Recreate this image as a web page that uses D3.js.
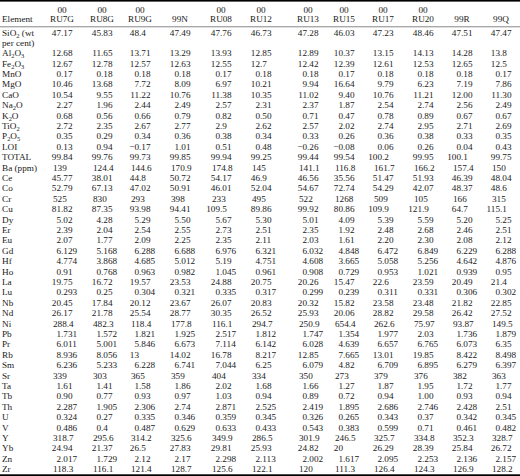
<!DOCTYPE html>
<html><head><meta charset="utf-8">
<script src="https://cdn.jsdelivr.net/npm/d3@7"></script>
<style>body{margin:0;background:#fff}</style></head>
<body><script>
const prefix=["00","00","00","","00","00","00","00","00","00","",""];
const samples=["RU7G","RU8G","RU9G","99N","RU08","RU12","RU13","RU15","RU17","RU20","99R","99Q"];
const colCenters=[62,102,140,180,221,261,308,344,383,423,462,501];
const elements=["Al|2|O|3","Fe|2|O|3","MnO","MgO","CaO","Na|2|O","K|2|O","TiO|2","P|2|O|5","LOI","TOTAL","Ba (ppm)","Ce","Co","Cr","Cu","Dy","Er","Eu","Gd","Hf","Ho","La","Lu","Nb","Nd","Ni","Pb","Pr","Rb","Sm","Sr","Ta","Tb","Th","U","V","Y","Yb","Zn","Zr"];
const leftRows=["Ba (ppm)","Cr","Sr","Ni","Y","Zr"];
const sio2=["47.17","45.83","48.4","47.49","47.76","46.73","47.28","46.03","47.23","48.46","47.51","47.47"];
const values=[
["12.68","11.65","13.71","13.29","13.93","12.85","12.89","10.37","13.15","14.13","14.28","13.8"],
["12.67","12.78","12.57","12.63","12.55","12.7","12.42","12.39","12.61","12.53","12.65","12.5"],
["0.17","0.18","0.18","0.18","0.17","0.18","0.18","0.17","0.18","0.18","0.18","0.17"],
["10.46","13.68","7.72","8.09","6.97","10.21","9.94","16.64","9.79","6.23","7.19","7.86"],
["10.54","9.55","11.22","10.76","11.38","10.35","11.02","9.40","10.76","11.21","12.00","11.30"],
["2.27","1.96","2.44","2.49","2.57","2.31","2.37","1.87","2.54","2.74","2.56","2.49"],
["0.68","0.56","0.66","0.79","0.82","0.50","0.71","0.47","0.78","0.89","0.67","0.67"],
["2.72","2.35","2.67","2.77","2.9","2.62","2.57","2.02","2.74","2.95","2.71","2.69"],
["0.35","0.29","0.34","0.36","0.38","0.34","0.33","0.26","0.36","0.38","0.33","0.35"],
["0.13","0.94","\u22120.17","1.01","0.51","0.48","\u22120.26","\u22120.08","0.06","0.26","0.04","0.43"],
["99.84","99.76","99.73","99.85","99.94","99.25","99.44","99.54","100.2","99.95","100.1","99.75"],
["139","124.4","144.6","170.9","174.8","145","141.1","116.8","161.7","166.2","157.4","150"],
["45.77","38.01","44.8","50.72","54.17","46.9","46.56","35.56","51.47","51.93","46.39","48.04"],
["52.79","67.13","47.02","50.91","46.01","52.04","54.67","72.74","54.29","42.07","48.37","48.6"],
["525","830","293","398","233","495","522","1268","509","105","166","315"],
["81.82","87.35","93.98","94.41","109.5","89.86","99.92","80.86","109.9","121.9","64.7","115.1"],
["5.02","4.28","5.29","5.50","5.67","5.30","5.01","4.09","5.39","5.59","5.20","5.25"],
["2.39","2.04","2.54","2.55","2.73","2.51","2.35","1.92","2.48","2.68","2.46","2.51"],
["2.07","1.77","2.09","2.25","2.35","2.11","2.03","1.61","2.20","2.30","2.08","2.12"],
["6.129","5.168","6.288","6.688","6.976","6.321","6.032","4.848","6.472","6.849","6.229","6.288"],
["4.774","3.868","4.685","5.012","5.19","4.751","4.608","3.665","5.058","5.256","4.642","4.876"],
["0.91","0.768","0.963","0.982","1.045","0.961","0.908","0.729","0.953","1.021","0.939","0.95"],
["19.75","16.72","19.57","23.53","24.88","20.75","20.26","15.47","22.6","23.59","20.49","21.4"],
["0.293","0.25","0.304","0.321","0.335","0.317","0.299","0.239","0.311","0.331","0.306","0.302"],
["20.45","17.84","20.12","23.67","26.07","20.83","20.32","15.82","23.58","23.48","21.82","22.85"],
["26.17","21.78","25.54","28.77","30.35","26.52","25.93","20.06","28.82","29.58","26.42","27.52"],
["288.4","482.3","118.4","177.8","116.1","294.7","250.9","654.4","262.6","75.97","93.87","149.5"],
["1.731","1.572","1.821","1.925","2.517","1.812","1.747","1.354","1.977","2.03","1.736","1.879"],
["6.011","5.001","5.846","6.673","7.114","6.142","6.028","4.639","6.657","6.765","6.073","6.35"],
["8.936","8.056","13","14.02","16.78","8.217","12.85","7.665","13.01","19.85","8.422","8.498"],
["6.236","5.233","6.228","6.741","7.044","6.25","6.079","4.82","6.709","6.895","6.279","6.397"],
["339","303","365","359","404","334","350","273","379","376","382","363"],
["1.61","1.41","1.58","1.86","2.02","1.68","1.66","1.27","1.87","1.95","1.72","1.77"],
["0.90","0.77","0.93","0.97","1.03","0.94","0.89","0.72","0.94","1.00","0.93","0.94"],
["2.287","1.905","2.306","2.74","2.871","2.525","2.419","1.895","2.686","2.746","2.428","2.51"],
["0.324","0.27","0.335","0.346","0.359","0.345","0.326","0.265","0.343","0.37","0.342","0.345"],
["0.486","0.4","0.487","0.629","0.633","0.433","0.543","0.383","0.599","0.71","0.461","0.482"],
["318.7","295.6","314.2","325.6","349.9","286.5","301.9","246.5","325.7","334.8","352.3","328.7"],
["24.94","21.37","26.5","27.83","29.81","25.93","24.82","20","26.29","28.39","25.84","26.72"],
["2.017","1.729","2.12","2.17","2.298","2.113","2.002","1.617","2.095","2.253","2.136","2.157"],
["118.3","116.1","121.4","128.7","125.6","122.1","120","111.3","126.4","124.3","126.9","128.2"]
];
const W=520,H=476,FONT="Liberation Serif",FS=9.2,col="#1a1a1a";
const svg=d3.select("body").append("svg").attr("width",W).attr("height",H);
const y=d3.scaleLinear().domain([0,elements.length-1]).range([53,469]);
const xs=d3.scaleOrdinal().domain(samples).range(colCenters);
svg.append("rect").attr("x",0).attr("y",0).attr("width",W).attr("height",1.6).attr("fill","#000");
svg.append("rect").attr("x",0).attr("y",26.5).attr("width",W).attr("height",0.7).attr("fill","#555");
svg.append("rect").attr("x",0).attr("y",474.3).attr("width",W).attr("height",1.7).attr("fill","#000");
const T=(x,yy,s,anchor)=>svg.append("text").attr("x",x).attr("y",yy).attr("font-family",FONT).attr("font-size",FS).attr("fill",col).attr("text-anchor",anchor||"start").text(s);
T(2,22,"Element");
samples.forEach((s,i)=>{T(xs(s),22,s,"middle"); if(prefix[i])T(xs(s),12.5,prefix[i],"middle");});
function label(x,yy,spec){const t=svg.append("text").attr("x",x).attr("y",yy).attr("font-family",FONT).attr("font-size",FS).attr("fill",col);
 const parts=spec.split("|");parts.forEach((p,k)=>{t.append("tspan").attr("font-size",k%2?FS*0.7:FS).attr("dy",k%2?2:(k>0?-2:0)).text(p);});}
label(2,36,"SiO|2| (wt");T(2,46,"per cent)");
const dw=4.6;
function cell(i,v,yy,left){const c=colCenters[i];
 if(left){T(c-9,yy,v);return;}
 const k=v.indexOf(".");
 const dec=c-1;
 if(k<0){T(dec,yy,v,"end");return;}
 const t=svg.append("text").attr("y",yy).attr("font-family",FONT).attr("font-size",FS).attr("fill",col);
 t.append("tspan").attr("x",dec).attr("text-anchor","end").text(v.slice(0,k));
 t.append("tspan").attr("x",dec).attr("text-anchor","start").text(v.slice(k));
}
sio2.forEach((v,i)=>cell(i,v,36,false));
elements.forEach((e,r)=>{const yy=y(r)+3.2;label(2,yy,e);
 const left=leftRows.includes(e);
 values[r].forEach((v,i)=>cell(i,v,yy,left));});
</script></body></html>
